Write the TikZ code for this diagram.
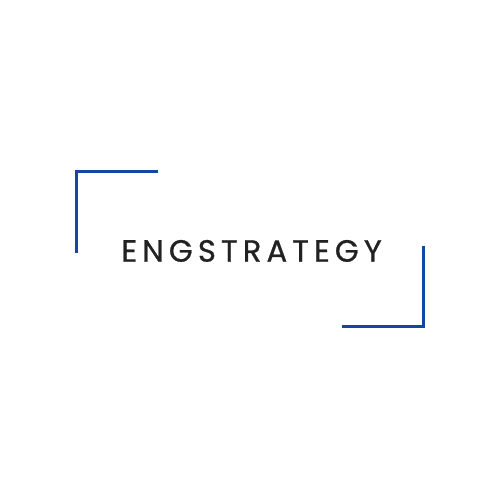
\documentclass[tikz,border=0pt]{standalone}
\usepackage{fontspec}
\newfontfamily\logofont[LetterSpace=16.5, FakeBold=0.7]{Poppins}
\definecolor{logoblue}{RGB}{18,72,164}
\definecolor{logotext}{RGB}{34,34,34}
\begin{document}
\begin{tikzpicture}
			%%%%% START %%%%%
			
			\useasboundingbox[fill=white] (0, 0) rectangle (10, 10);
			
			\draw[line width=0.06cm, color=logoblue] (3.16, 6.56) -- (1.52, 6.56) -- (1.52, 4.94);
			\draw[line width=0.06cm, color=logoblue] (8.46, 5.08) -- (8.46, 3.46) -- (6.84, 3.46);
			
			\node[anchor=base west, inner sep=0pt, text=logotext, font=\logofont\fontsize{17.5}{20}\selectfont] (title) at (2.42, 4.766) {ENGSTRATEGY};
			
			%%%%% END %%%%%
		\end{tikzpicture}
\end{document}
